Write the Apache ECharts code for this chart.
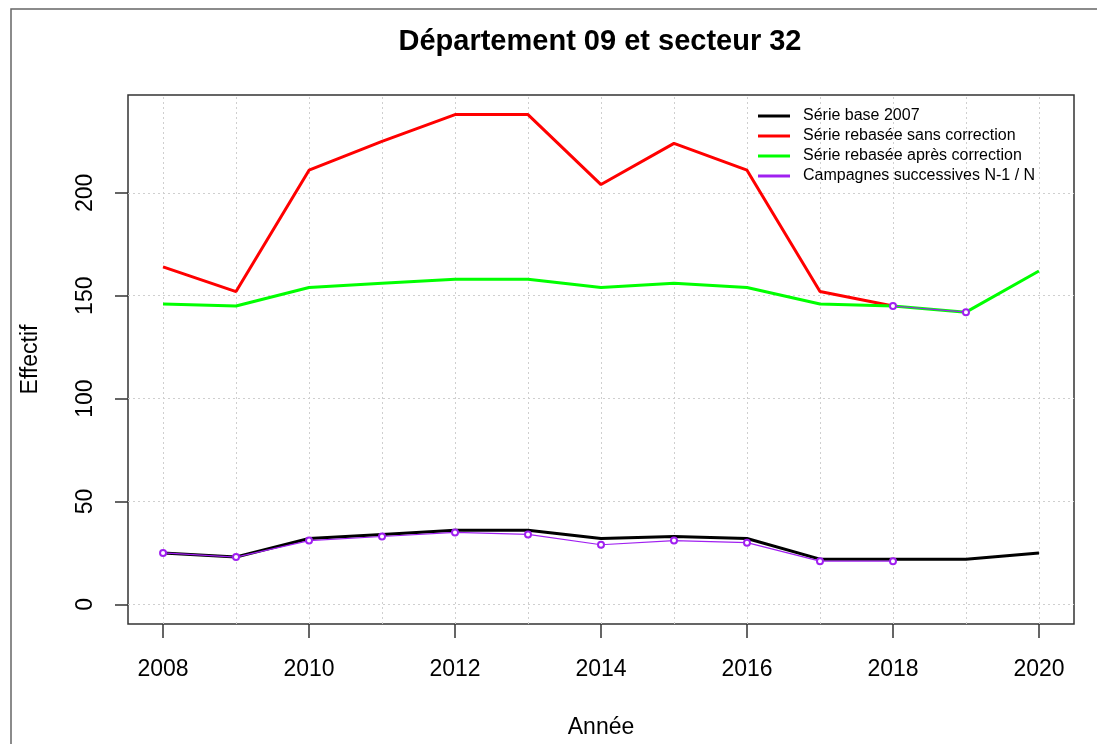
<!DOCTYPE html>
<html lang="fr">

<head>
    <meta charset="UTF-8">
    <title>Département 09 et secteur 32</title>
    <style>
        * {
            padding: 0;
            margin: 0;
            box-sizing: border-box;
        }

        html,
        body,
        .chart-container {
            width: 100%;
            height: 100%;
            background: #fff;
        }
    </style>
</head>

<body>
    <div id="chart-container" class="chart-container"></div>
</body>

</html>
<script src="https://cdn.jsdelivr.net/npm/echarts@6/dist/echarts.min.js"></script>

<script>
    // années
    const years = [2008, 2009, 2010, 2011, 2012, 2013, 2014, 2015, 2016, 2017, 2018, 2019, 2020]
    const yearLabels = [2008, 2010, 2012, 2014, 2016, 2018, 2020]
    const effectifTicks = [0, 50, 100, 150, 200]

    // séries
    const serieBase2007 = [25, 23, 32, 34, 36, 36, 32, 33, 32, 22, 22, 22, 25]
    const serieSansCorrection = [164, 152, 211, 225, 238, 238, 204, 224, 211, 152, 145]
    const serieApresCorrection = [146, 145, 154, 156, 158, 158, 154, 156, 154, 146, 145, 142, 162]
    // campagnes successives N-1 / N (base 2007 puis rebasée)
    const campagnesBase = [25, 23, 31, 33, 35, 34, 29, 31, 30, 21, 21]
    const campagnesRebasees = [[2018, 145], [2019, 142]]

    const font = '"Liberation Sans", Arial, sans-serif'

    function pairs(values) {
        return values.map((v, i) => [years[i], v])
    }

    var myChart = echarts.init(document.getElementById('chart-container'))

    var option = {
        animation: false,
        backgroundColor: '#fff',
        title: {
            text: 'Département 09 et secteur 32',
            left: 600,
            top: 27,
            padding: 0,
            textAlign: 'center',
            textStyle: {
                fontFamily: font,
                fontSize: 29,
                fontWeight: 'bold',
                color: '#000'
            }
        },
        graphic: [{
            type: 'rect',
            shape: { x: 11, y: 9, width: 1100, height: 760 },
            style: { fill: 'none', stroke: '#666', lineWidth: 1.5 },
            silent: true
        }],
        legend: {
            orient: 'vertical',
            left: 758,
            top: 108,
            padding: 0,
            icon: 'rect',
            itemWidth: 32,
            itemHeight: 3,
            itemGap: 4,
            textStyle: {
                fontFamily: font,
                fontSize: 16,
                lineHeight: 16,
                color: '#000',
                padding: [0, 0, 0, 8]
            },
            data: ['Série base 2007', 'Série rebasée sans correction', 'Série rebasée après correction',
                'Campagnes successives N-1 / N']
        },
        grid: {
            left: 128,
            right: 23,
            top: 95,
            bottom: 120,
            show: true,
            borderColor: '#333',
            borderWidth: 1.5,
            outerBoundsMode: 'none'
        },
        xAxis: {
            type: 'value',
            min: 2007.52,
            max: 2020.48,
            name: 'Année',
            nameLocation: 'middle',
            nameGap: 92,
            nameTextStyle: { fontFamily: font, fontSize: 23, color: '#000' },
            axisLine: { show: false, onZero: false },
            axisTick: {
                show: true,
                length: 14,
                customValues: yearLabels,
                lineStyle: { color: '#333', width: 1.5 }
            },
            axisLabel: {
                customValues: yearLabels,
                margin: 34,
                fontFamily: font,
                fontSize: 23,
                color: '#000',
                formatter: v => String(Math.round(v))
            },
            splitLine: { show: false }
        },
        yAxis: {
            type: 'value',
            min: -9.52,
            max: 247.52,
            name: 'Effectif',
            nameLocation: 'middle',
            nameGap: 86,
            nameTextStyle: { fontFamily: font, fontSize: 23, color: '#000' },
            axisLine: { show: false, onZero: false },
            axisTick: {
                show: true,
                length: 13,
                customValues: effectifTicks,
                lineStyle: { color: '#333', width: 1.5 }
            },
            axisLabel: {
                customValues: effectifTicks,
                rotate: 90,
                margin: 31,
                fontFamily: font,
                fontSize: 23,
                color: '#000'
            },
            splitLine: { show: false }
        },
        series: [{
                // grille
                type: 'line',
                data: [],
                silent: true,
                markLine: {
                    silent: true,
                    z: 1,
                    symbol: ['none', 'none'],
                    label: { show: false },
                    lineStyle: { color: '#cfcfcf', type: [2, 3], width: 1 },
                    data: years.map(y => ({ xAxis: y })).concat(effectifTicks.map(v => ({ yAxis: v })))
                }
            },
            {
                name: 'Série base 2007',
                type: 'line',
                z: 3,
                color: '#000',
                symbol: 'none',
                lineStyle: { width: 3, color: '#000' },
                data: pairs(serieBase2007)
            },
            {
                name: 'Série rebasée sans correction',
                type: 'line',
                z: 3,
                color: '#ff0000',
                symbol: 'none',
                lineStyle: { width: 3, color: '#ff0000' },
                data: pairs(serieSansCorrection)
            },
            {
                name: 'Série rebasée après correction',
                type: 'line',
                z: 3,
                color: '#00ff00',
                symbol: 'none',
                lineStyle: { width: 3, color: '#00ff00' },
                data: pairs(serieApresCorrection)
            },
            {
                name: 'Campagnes successives N-1 / N',
                type: 'line',
                z: 4,
                color: '#a020f0',
                symbol: 'emptyCircle',
                symbolSize: 6,
                itemStyle: { borderWidth: 1.5 },
                lineStyle: { width: 1.2, color: '#a020f0' },
                data: pairs(campagnesBase)
            },
            {
                name: 'Campagnes successives N-1 / N',
                type: 'line',
                z: 4,
                color: '#a020f0',
                symbol: 'emptyCircle',
                symbolSize: 6,
                itemStyle: { borderWidth: 1.5 },
                lineStyle: { width: 1.2, color: '#a020f0' },
                data: campagnesRebasees
            }
        ]
    }

    myChart.setOption(option)
</script>
